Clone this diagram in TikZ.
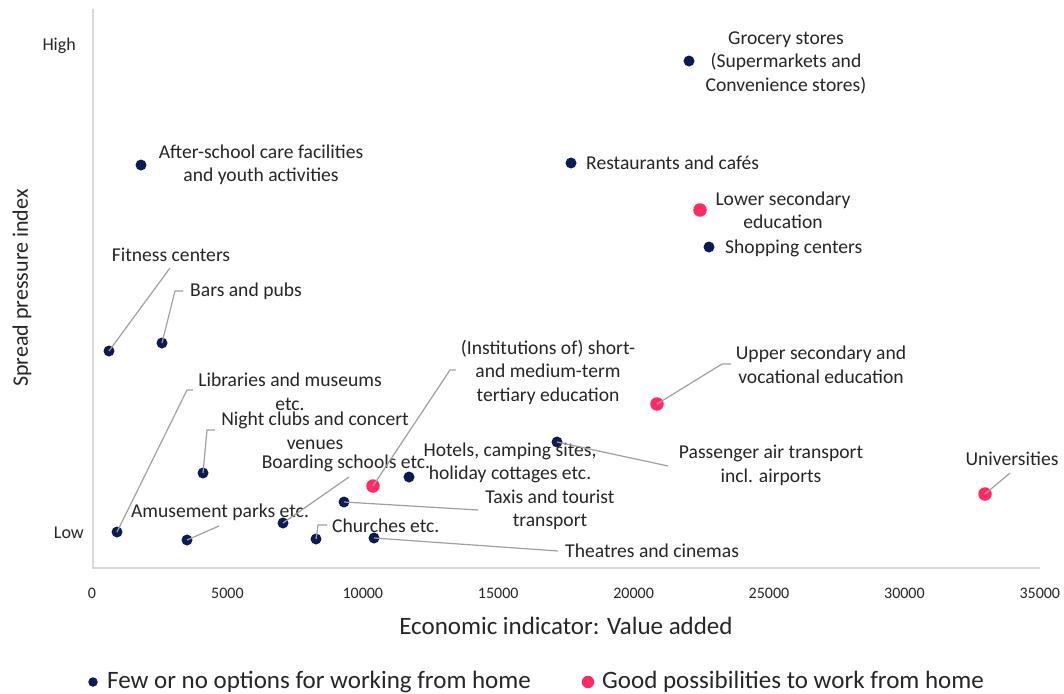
\documentclass[tikz,border=0pt]{standalone}
\usepackage{fontspec}
\setmainfont{Carlito}
\definecolor{navydot}{RGB}{14,27,80}
\definecolor{pinkdot}{RGB}{255,43,102}
\definecolor{axisgray}{RGB}{217,217,217}
\definecolor{leadergray}{RGB}{160,160,160}
\definecolor{txt}{RGB}{38,38,38}

\begin{document}
\begin{tikzpicture}[x=1pt, y=-1pt,
    fewdot/.style={circle, fill=navydot, inner sep=0pt, minimum size=11pt},
    gooddot/.style={circle, fill=pinkdot, inner sep=0pt, minimum size=13.5pt},
    lbl/.style={font=\fontsize{19.6}{23.5}\selectfont, text=txt, inner sep=0pt, align=center},
    ticklbl/.style={font=\fontsize{16}{18}\selectfont, text=txt, inner sep=0pt},
    axtitle/.style={font=\fontsize{25}{28}\selectfont, text=txt, inner sep=0pt},
    leader/.style={draw=leadergray, line width=1.2pt},
    axisline/.style={draw=axisgray, line width=1.5pt}]
    \useasboundingbox[fill=white] (0,0) rectangle (1064,693);

    % axes
    \coordinate (ytop) at (93,9);
    \coordinate (origin) at (93,568);
    \coordinate (xend) at (1040,568);
    \draw[axisline] (ytop) -- (origin) -- (xend);
    \foreach \v [count=\i from 0] in {0,5000,10000,15000,20000,25000,30000,35000}{
            \node[ticklbl] (tick\i) at ({92+\i*135.4}, 593) {\v};
        }
    \node[lbl, font=\fontsize{18}{20}\selectfont, anchor=east] (high) at (76,46) {High};
    \node[lbl, font=\fontsize{18}{20}\selectfont, anchor=east] (low) at (84,533) {Low};
    \node[axtitle] (xtitle) at (566,626) {Economic indicator: Value added};
    \node[axtitle, font=\fontsize{22}{26}\selectfont, rotate=90] (ytitle) at (22,288) {Spread pressure index};

    % data points
    \foreach \name/\x/\y in {grocery/689/61, afterschool/141/165, restaurants/571/163,
            shopping/709/247, fitness/109/351, bars/162/343, libraries/117/532,
            nightclubs/203/473, boarding/283/523, hotels/409/477, passenger/557/442,
            taxis/344/502, amusement/187/540, churches/316/539, theatres/374/538}{
            \node[fewdot] (\name) at (\x, \y) {};
        }
    \foreach \name/\x/\y in {lowersec/700/210, institutions/373/486,
            upper/657/404, universities/985/494}{
            \node[gooddot] (\name) at (\x, \y) {};
        }

    % labels
    \node[lbl] (groceryLbl) at (786,62.5) {Grocery stores\\(Supermarkets and\\Convenience stores)};
    \node[lbl] (afterschoolLbl) at (261,165) {After-school care facilities\\and youth activities};
    \node[lbl, anchor=west] (restaurantsLbl) at (586,163) {Restaurants and cafés};
    \node[lbl] (lowersecLbl) at (783,210.5) {Lower secondary\\education};
    \node[lbl, anchor=west] (shoppingLbl) at (725,248) {Shopping centers};
    \node[lbl] (fitnessLbl) at (171,255) {Fitness centers};
    \node[lbl, anchor=west] (barsLbl) at (190,291) {Bars and pubs};
    \node[lbl] (librariesLbl) at (290,392) {Libraries and museums\\etc.};
    \node[lbl] (nightclubsLbl) at (315,431) {Night clubs and concert\\venues};
    \node[lbl] (boardingLbl) at (346,463) {Boarding schools etc.};
    \node[lbl] (hotelsLbl) at (510,463) {Hotels, camping sites,\\holiday cottages etc.};
    \node[lbl] (institutionsLbl) at (548,372) {(Institutions of) short-\\and medium-term\\tertiary education};
    \node[lbl] (passengerLbl) at (771,465.5) {Passenger air transport\\incl. airports};
    \node[lbl] (taxisLbl) at (550,510) {Taxis and tourist\\transport};
    \node[lbl] (amusementLbl) at (220,512) {Amusement parks etc.};
    \node[lbl, anchor=west] (churchesLbl) at (332,526) {Churches etc.};
    \node[lbl, anchor=west] (theatresLbl) at (565,551) {Theatres and cinemas};
    \node[lbl] (upperLbl) at (821,365) {Upper secondary and\\vocational education};
    \node[lbl] (universitiesLbl) at (1012,459) {Universities};

    % leader lines
    \coordinate (fitnessEnd) at (170,268);
    \coordinate (barsBend) at (175,291);
    \coordinate (barsEnd) at (183,291);
    \coordinate (librariesBend) at (187,390);
    \coordinate (librariesEnd) at (193,390);
    \coordinate (nightclubsBend) at (207,430);
    \coordinate (nightclubsEnd) at (215,430);
    \coordinate (boardingEnd) at (349,477);
    \coordinate (amusementEnd) at (219,526);
    \coordinate (churchesBend) at (318,525);
    \coordinate (churchesEnd) at (327,525);
    \coordinate (institutionsBend) at (450,370);
    \coordinate (institutionsEnd) at (456,370);
    \coordinate (passengerEnd) at (668,466);
    \coordinate (taxisEnd) at (478,510);
    \coordinate (theatresEnd) at (558,551);
    \coordinate (upperBend) at (722,364);
    \coordinate (upperEnd) at (731,364);
    \coordinate (universitiesEnd) at (1010,473);
    \draw[leader] (fitness.center) -- (fitnessEnd);
    \draw[leader] (bars.center) -- (barsBend) -- (barsEnd);
    \draw[leader] (libraries.center) -- (librariesBend) -- (librariesEnd);
    \draw[leader] (nightclubs.center) -- (nightclubsBend) -- (nightclubsEnd);
    \draw[leader] (boarding.center) -- (boardingEnd);
    \draw[leader] (amusement.center) -- (amusementEnd);
    \draw[leader] (churches.center) -- (churchesBend) -- (churchesEnd);
    \draw[leader] (institutions.center) -- (institutionsBend) -- (institutionsEnd);
    \draw[leader] (passenger.center) -- (passengerEnd);
    \draw[leader] (taxis.center) -- (taxisEnd);
    \draw[leader] (theatres.center) -- (theatresEnd);
    \draw[leader] (upper.center) -- (upperBend) -- (upperEnd);
    \draw[leader] (universities.center) -- (universitiesEnd);

    % legend
    \node[fewdot, minimum size=9.5pt] (fewKey) at (93,682) {};
    \node[axtitle, anchor=west] (fewText) at (107,682) {Few or no options for working from home};
    \node[gooddot, minimum size=12.5pt] (goodKey) at (588,682) {};
    \node[axtitle, anchor=west] (goodText) at (602,682) {Good possibilities to work from home};
\end{tikzpicture}
\end{document}
